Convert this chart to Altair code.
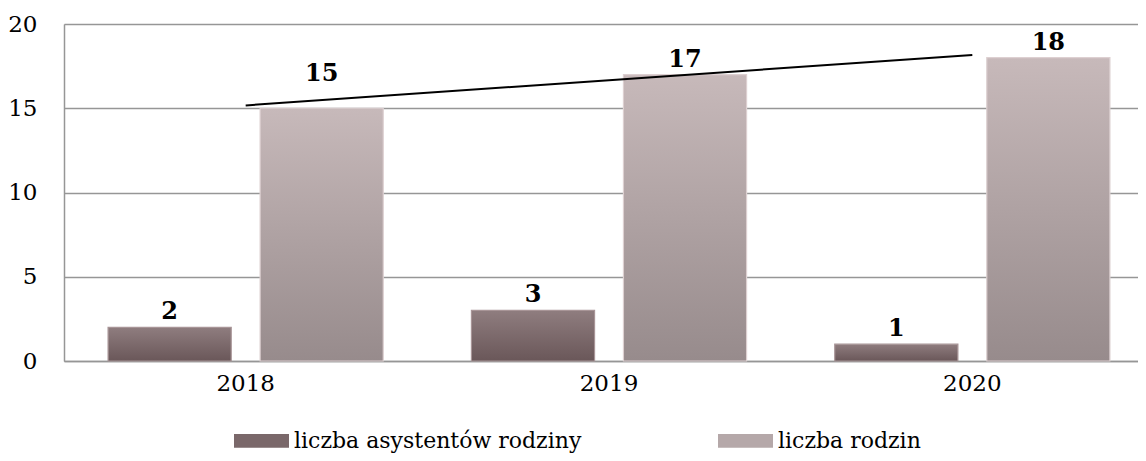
import altair as alt
import numpy as np
import pandas as pd

years = ["2018", "2019", "2020"]
asystenci = [2, 3, 1]
rodziny = [15, 17, 18]
series_names = ["liczba asystentów rodziny", "liczba rodzin"]

rows = []
for i, y in enumerate(years):
    rows.append({"year": y, "series": series_names[0], "value": asystenci[i]})
    rows.append({"year": y, "series": series_names[1], "value": rodziny[i]})
df = pd.DataFrame(rows)

# linear trendline fitted to "liczba rodzin"
idx = np.arange(len(years))
coef = np.polyfit(idx, rodziny, 1)
trend_df = pd.DataFrame({"year": years, "value": np.polyval(coef, idx)})

FONT = "DejaVu Serif"

x_enc = alt.X("year:N", sort=years,
              scale=alt.Scale(range=[0, 1090], paddingInner=0, paddingOuter=0),
              axis=alt.Axis(title=None, labelAngle=0, ticks=False, domainColor="#969696",
                            domainWidth=1.5, labelFont=FONT, labelFontSize=23,
                            labelColor="#000000", labelPadding=11))
xo_enc = alt.XOffset("series:N", sort=series_names,
                     scale=alt.Scale(paddingInner=0.19, paddingOuter=0.29))
y_enc = alt.Y("value:Q",
              scale=alt.Scale(domain=[0, 20], nice=False),
              axis=alt.Axis(title=None, values=[0, 5, 10, 15, 20], ticks=False,
                            grid=True, gridColor="#969696", gridWidth=1.5,
                            domainColor="#969696", domainWidth=1.5,
                            labelFont=FONT, labelFontSize=23, labelColor="#000000",
                            labelPadding=27))

grad_dark = alt.Gradient(gradient="linear", x1=0, y1=0, x2=0, y2=1,
                         stops=[alt.GradientStop(color="#8f7d7f", offset=0),
                                alt.GradientStop(color="#6a5759", offset=1)])
grad_light = alt.Gradient(gradient="linear", x1=0, y1=0, x2=0, y2=1,
                          stops=[alt.GradientStop(color="#c7b9ba", offset=0),
                                 alt.GradientStop(color="#978b8c", offset=1)])

base = alt.Chart(df)

bars_dark = base.transform_filter(alt.datum.series == series_names[0]).mark_bar(
    color=grad_dark, stroke="#a89597", strokeWidth=1.2).encode(x=x_enc, xOffset=xo_enc, y=y_enc)
bars_light = base.transform_filter(alt.datum.series == series_names[1]).mark_bar(
    color=grad_light, stroke="#ddd0d1", strokeWidth=1.2).encode(x=x_enc, xOffset=xo_enc, y=y_enc)

legend_layer = base.mark_bar(opacity=0).encode(
    x=x_enc, xOffset=xo_enc, y=y_enc,
    color=alt.Color("series:N", sort=series_names,
                    scale=alt.Scale(domain=series_names, range=["#7a686a", "#b5a8a9"]),
                    legend=alt.Legend(orient="none", legendX=170, legendY=389,
                                      direction="horizontal", title=None,
                                      symbolType="M-1,-0.25H1V0.25H-1Z", symbolSize=3025,
                                      symbolOpacity=1, symbolStrokeWidth=0,
                                      labelFont=FONT, labelFontSize=22, labelColor="#000000",
                                      labelOffset=5, columnPadding=136, labelLimit=400)))

label_style = dict(baseline="bottom", font=FONT, fontSize=24, fontWeight="bold", color="#000000")
labels = base.transform_filter(alt.datum.value != 15).mark_text(dy=-3, **label_style).encode(
    x=x_enc, xOffset=xo_enc, y=y_enc, text=alt.Text("value:Q"))
label15 = base.transform_filter(alt.datum.value == 15).mark_text(dy=-22, **label_style).encode(
    x=x_enc, xOffset=xo_enc, y=y_enc, text=alt.Text("value:Q"))

trend = alt.Chart(trend_df).mark_line(color="#000000", strokeWidth=2).encode(
    x=x_enc, y=y_enc)

chart = alt.layer(bars_dark, bars_light, legend_layer, trend, labels, label15).properties(
    width=1074, height=337,
    autosize=alt.AutoSizeParams(type="none"),
    padding={"left": 56, "top": 16, "right": 0, "bottom": 92},
).configure_view(fill="#e6e6e6", stroke="transparent").configure(background="#ffffff")

chart.save("out.html", embed_options={"renderer": "svg", "actions": False})
